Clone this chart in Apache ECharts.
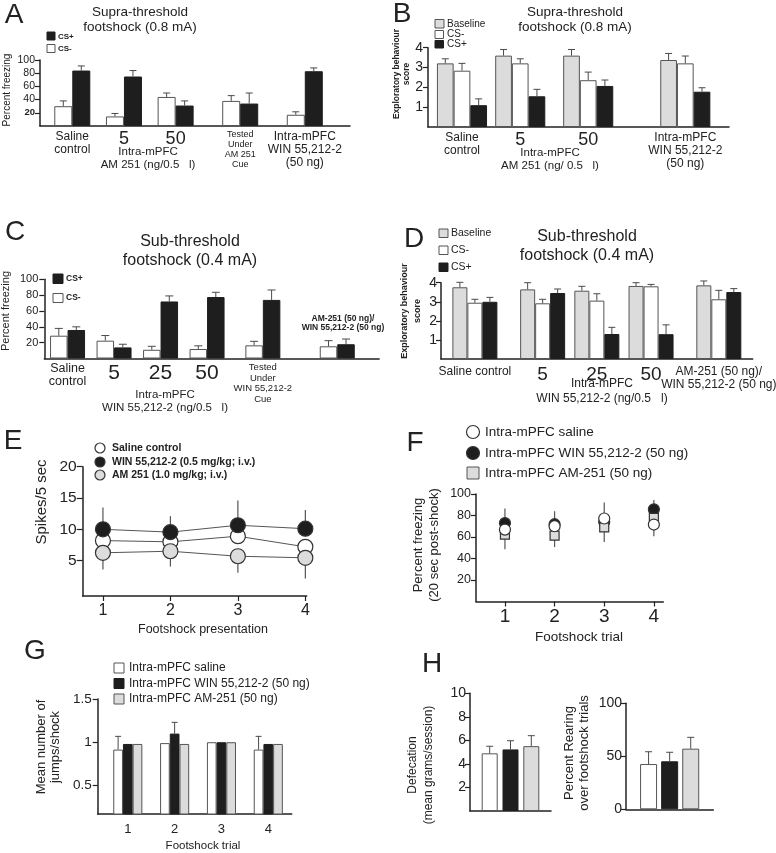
<!DOCTYPE html>
<html><head><meta charset="utf-8">
<script src="https://cdn.jsdelivr.net/npm/echarts@6/dist/echarts.min.js"></script>
<style>html,body{margin:0;padding:0;background:#fff}#c{width:776px;height:853px}</style>
</head><body><div id="c"></div>
<script>
// ===================== DATA =====================
// Panel A – supra-threshold, percent freezing
const aGroups = ['Saline control', '5', '50', 'Tested Under AM 251 Cue', 'Intra-mPFC WIN 55,212-2 (50 ng)'];
const aCSminus = [30, 14.5, 44, 38, 17];
const aCSminusErr = [8, 4.5, 6, 8, 4.5];
const aCSplus = [84, 75, 31, 34, 83];
const aCSplusErr = [7, 9, 7, 16, 5];
const aYTicks = [20, 40, 60, 80, 100];
// Panel B – supra-threshold, exploratory behaviour
const bGroups = ['Saline control', '5', '50', 'Intra-mPFC WIN 55,212-2 (50 ng)'];
const bBaseline = [3.21, 3.6, 3.6, 3.38];
const bBaselineErr = [0.23, 0.31, 0.31, 0.33];
const bCSminus = [2.84, 3.21, 2.36, 3.21];
const bCSminusErr = [0.37, 0.23, 0.41, 0.37];
const bCSplus = [1.1, 1.55, 2.07, 1.78];
const bCSplusErr = [0.32, 0.35, 0.3, 0.2];
const bYTicks = [1, 2, 3, 4];
// Panel C – sub-threshold, percent freezing
const cGroups = ['Saline control', '5', '25', '50', 'Tested Under WIN 55,212-2 Cue', 'AM-251 (50 ng)/WIN 55,212-2 (50 ng)'];
const cCSminus = [28.8, 22.5, 11, 12, 16.6, 15.4];
const cCSminusErr = [9.2, 6.5, 4.4, 4, 5.1, 7.1];
const cCSplus = [36, 14, 72, 77.6, 74, 18];
const cCSplusErr = [4, 4, 7, 6, 12.5, 6.6];
const cYTicks = [20, 40, 60, 80, 100];
// Panel D – sub-threshold, exploratory behaviour
const dGroups = ['Saline control', '5', '25', '50', 'AM-251 (50 ng)/ WIN 55,212-2 (50 ng)'];
const dBaseline = [3.76, 3.65, 3.58, 3.83, 3.86];
const dBaselineErr = [0.26, 0.35, 0.23, 0.17, 0.23];
const dCSminus = [2.95, 2.92, 3.06, 3.81, 3.13];
const dCSminusErr = [0.18, 0.21, 0.36, 0.1, 0.47];
const dCSplus = [3.0, 3.46, 1.31, 1.3, 3.51];
const dCSplusErr = [0.23, 0.21, 0.35, 0.49, 0.18];
const dYTicks = [1, 2, 3, 4];
// Panel E – spikes / 5 sec
const eTrials = [1, 2, 3, 4];
const eSaline = [8.2, 8.0, 8.9, 7.2];
const eWin = [10.0, 9.55, 10.65, 10.1];
const eWinErr = [3.5, 2.55, 3.95, 3.0];
const eAm = [6.25, 6.5, 5.7, 5.45];
const eAmErr = [2.65, 2.45, 2.64, 3.3];
const eYTicks = [5, 10, 15, 20];
// Panel F – percent freezing post-shock
const fTrials = [1, 2, 3, 4];
const fSaline = [66.9, 70, 77.2, 71.6];
const fWin = [73, 71.9, 74, 85.7];
const fWinErr = [13.6, 12.1, 18.2, 8.7];
const fAm = [62.2, 61.3, 69, 77.8];
const fAmErr = [13.7, 10.7, 13.7, 17.2];
const fYTicks = [20, 40, 60, 80, 100];
// Panel G – jumps / shock
const gTrials = ['1', '2', '3', '4'];
const gSaline = [0.915, 0.99, 1.0, 0.915];
const gSalineErr = [0.153, 0, 0, 0.153];
const gWin = [0.98, 1.1, 1.0, 0.98];
const gWinErr = [0, 0.13, 0, 0];
const gAm = [0.98, 0.98, 1.0, 0.98];
const gAmErr = [0, 0, 0, 0];
const gYTicks = [0.5, 1, 1.5];
// Panel H – defecation and rearing (saline, WIN, AM-251)
const hDefecation = [4.9, 5.23, 5.51];
const hDefecationErr = [0.6, 0.74, 0.89];
const hRearing = [42.7, 45.3, 57.2];
const hRearingErr = [11.6, 8.5, 10.7];
const hDefTicks = [2, 4, 6, 8, 10];
const hRearTicks = [0, 50, 100];

// ===================== STYLE / BUILD =====================
const FONT = '"Liberation Sans", Arial, Helvetica, sans-serif';
const INK = '#222';
const EDGE = '#4a4a4a';
const BLACK = '#1e1e1e';
const GREY = '#dcdcdc';
const WHITE = '#ffffff';
const stWhite = { color: WHITE, borderColor: '#555', borderWidth: 1 };
const stBlack = { color: BLACK, borderColor: BLACK, borderWidth: 1 };
const stGrey = { color: GREY, borderColor: '#555', borderWidth: 1 };

const grids = [], xAxes = [], yAxes = [], series = [], graphics = [];

function addGrid(left, top, width, height) {
  grids.push({ left, top, width, height, containLabel: false, outerBoundsMode: 'none' });
  return grids.length - 1;
}
function slotAxis(gi, n, slots, labels, rich, margin) {
  const cats = Array.from({ length: n }, (_, i) => 'c' + i);
  const at = {};
  slots.forEach((s, i) => { at[s] = labels[i]; });
  xAxes.push({
    type: 'category', gridIndex: gi, data: cats, boundaryGap: true,
    axisLine: { onZero: false, lineStyle: { color: INK, width: 1.5 } },
    axisTick: { show: false },
    axisLabel: { interval: 0, margin, color: INK, fontFamily: FONT,
      formatter: (v) => at[+String(v).slice(1)] || '', rich }
  });
  return { xi: xAxes.length - 1, cats };
}
function valueY(gi, min, max, ticks, size, margin, fmt, rich) {
  yAxes.push({ type: 'value', gridIndex: gi, min, max, splitLine: { show: false },
    axisLine: { show: true, onZero: false, lineStyle: { color: INK, width: 1.5 } },
    axisTick: { show: true, length: 5, customValues: ticks, lineStyle: { color: INK, width: 1.2 } },
    axisLabel: { customValues: ticks, fontSize: size, margin, color: INK, fontFamily: FONT, formatter: fmt, rich } });
  return yAxes.length - 1;
}
function valueX(gi, min, max, ticks, size, margin) {
  xAxes.push({ type: 'value', gridIndex: gi, min, max, splitLine: { show: false },
    axisLine: { show: true, onZero: false, lineStyle: { color: INK, width: 1.5 } },
    axisTick: { show: true, length: 5, customValues: ticks, lineStyle: { color: INK, width: 1.2 } },
    axisLabel: { customValues: ticks, fontSize: size, margin, color: INK, fontFamily: FONT } });
  return xAxes.length - 1;
}
function groupBars(ax, yi, slots, list, bw, cap) {
  const n = list.length;
  list.forEach((s, k) => {
    const data = ax.cats.map(() => '-');
    slots.forEach((sl, i) => { data[sl] = s.vals[i]; });
    series.push({ type: 'bar', xAxisIndex: ax.xi, yAxisIndex: yi, data, barWidth: bw, barGap: '0%',
      itemStyle: s.style, silent: true, z: 2 });
    const offset = (k - (n - 1) / 2) * bw;
    const edata = [];
    slots.forEach((sl, i) => { if (s.errs[i] > 0) edata.push([ax.cats[sl], s.vals[i], s.vals[i] + s.errs[i]]); });
    series.push({ type: 'custom', xAxisIndex: ax.xi, yAxisIndex: yi, data: edata, silent: true, z: 3,
      encode: { x: 0, y: [1, 2] },
      renderItem: (p, api) => {
        const a = api.coord([api.value(0), api.value(1)]);
        const b = api.coord([api.value(0), api.value(2)]);
        const x = a[0] + offset;
        return { type: 'group', children: [
          { type: 'line', shape: { x1: x, y1: a[1], x2: x, y2: b[1] }, style: { stroke: EDGE, lineWidth: 1 } },
          { type: 'line', shape: { x1: x - cap / 2, y1: b[1], x2: x + cap / 2, y2: b[1] }, style: { stroke: EDGE, lineWidth: 1 } }
        ] };
      } });
  });
}
function vErr(xi, yi, xs, lo, hi) {
  const data = xs.map((x, i) => [x, lo[i], hi[i]]);
  series.push({ type: 'custom', xAxisIndex: xi, yAxisIndex: yi, data, silent: true, z: 1,
    encode: { x: 0, y: [1, 2] },
    renderItem: (p, api) => {
      const a = api.coord([api.value(0), api.value(1)]);
      const b = api.coord([api.value(0), api.value(2)]);
      return { type: 'line', shape: { x1: a[0], y1: a[1], x2: b[0], y2: b[1] }, style: { stroke: '#555', lineWidth: 1.2 } };
    } });
}
function txt(x, y, text, size, o) {
  o = o || {};
  graphics.push({ type: 'text', x, y, rotation: o.rot || 0, silent: true, z: 10,
    style: { text, fill: INK, fontSize: size, fontFamily: FONT, fontWeight: o.bold ? 'bold' : 'normal',
      align: o.align || 'center', verticalAlign: o.va || 'middle', lineHeight: o.lh } });
}
function rect(x, y, w, h, st) {
  graphics.push({ type: 'rect', silent: true, z: 10, shape: { x, y, width: w, height: h },
    style: { fill: st.color, stroke: st.borderColor, lineWidth: 1 } });
}
function circ(cx, cy, r, fill) {
  graphics.push({ type: 'circle', silent: true, z: 10, shape: { cx, cy, r },
    style: { fill, stroke: '#333', lineWidth: 1.2 } });
}
const R90 = Math.PI / 2;

// ---------- Panel A ----------
{
  const gi = addGrid(40, 60, 310, 66);
  const labels = ['{n|Saline\ncontrol}', '{b|5}', '{b|50}', '{s|Tested\nUnder\nAM 251\nCue}', '{n|Intra-mPFC\nWIN 55,212-2\n(50 ng)}'];
  const ax = slotAxis(gi, 24, [2, 6, 10, 15, 20], labels, {
    n: { fontSize: 12, lineHeight: 13, fontFamily: FONT, color: INK },
    b: { fontSize: 18, lineHeight: 18, fontFamily: FONT, color: INK },
    s: { fontSize: 9, lineHeight: 10, fontFamily: FONT, color: INK } }, 4);
  const yi = valueY(gi, 0, 100, aYTicks, 10.5, 5, (v) => v === 20 ? '{bb|20}' : String(v),
    { bb: { fontSize: 9.5, fontWeight: 'bold', fontFamily: FONT, color: INK } });
  groupBars(ax, yi, [2, 6, 10, 15, 20], [
    { vals: aCSminus, errs: aCSminusErr, style: stWhite },
    { vals: aCSplus, errs: aCSplusErr, style: stBlack }], 18, 7);
  txt(14, 15, 'A', 28);
  txt(140, 20, 'Supra-threshold\nfootshock (0.8 mA)', 13.5, { lh: 14.5 });
  rect(47, 32, 8, 8, stBlack); txt(58, 36.5, 'CS+', 8, { bold: true, align: 'left' });
  rect(47, 44.5, 8, 8, stWhite); txt(58, 49, 'CS-', 8, { bold: true, align: 'left' });
  txt(7, 90, 'Percent freezing', 10, { rot: R90 });
  txt(148, 158.5, 'Intra-mPFC\nAM 251 (ng/0.5   l)', 11.5, { lh: 13 });
}
// ---------- Panel B ----------
{
  const gi = addGrid(428, 47.7, 301, 79.3);
  const labels = ['{n|Saline\ncontrol}', '{b|5}', '{b|50}', '{n|Intra-mPFC\nWIN 55,212-2\n(50 ng)}'];
  const ax = slotAxis(gi, 31, [3, 9, 16, 26], labels, {
    n: { fontSize: 12, lineHeight: 13, fontFamily: FONT, color: INK },
    b: { fontSize: 18, lineHeight: 18, fontFamily: FONT, color: INK } }, 4);
  const yi = valueY(gi, 0, 4, bYTicks, 14, 5);
  groupBars(ax, yi, [3, 9, 16, 26], [
    { vals: bBaseline, errs: bBaselineErr, style: stGrey },
    { vals: bCSminus, errs: bCSminusErr, style: stWhite },
    { vals: bCSplus, errs: bCSplusErr, style: stBlack }], 16.7, 7);
  txt(402, 14, 'B', 28);
  txt(575, 20, 'Supra-threshold\nfootshock (0.8 mA)', 13.5, { lh: 14.5 });
  rect(435, 19.5, 9, 8.5, stGrey); txt(447, 24, 'Baseline', 10, { align: 'left' });
  rect(435, 30.5, 8.5, 8, stWhite); txt(447, 34.5, 'CS-', 10, { align: 'left' });
  rect(435, 40.5, 8.5, 7.5, stBlack); txt(447, 44.5, 'CS+', 10, { align: 'left' });
  txt(402, 74, 'Exploratory behaviour\nscore', 8.5, { rot: R90, bold: true, lh: 10 });
  txt(550, 159, 'Intra-mPFC\nAM 251 (ng/ 0.5   l)', 11.5, { lh: 13 });
}
// ---------- Panel C ----------
{
  const gi = addGrid(44.3, 279.3, 334.8, 79.2);
  const labels = ['{n|Saline\ncontrol}', '{b|5}', '{b|25}', '{b|50}', '{s|Tested\nUnder\nWIN 55,212-2\nCue}', ''];
  const ax = slotAxis(gi, 36, [2, 7, 12, 17, 23, 31], labels, {
    n: { fontSize: 12.5, lineHeight: 13, fontFamily: FONT, color: INK },
    b: { fontSize: 21, lineHeight: 21, fontFamily: FONT, color: INK },
    s: { fontSize: 9.5, lineHeight: 10.5, fontFamily: FONT, color: INK } }, 4);
  const yi = valueY(gi, 0, 100, cYTicks, 11, 6);
  groupBars(ax, yi, [2, 7, 12, 17, 23, 31], [
    { vals: cCSminus, errs: cCSminusErr, style: stWhite },
    { vals: cCSplus, errs: cCSplusErr, style: stBlack }], 17.5, 8);
  txt(15, 232, 'C', 28);
  txt(190, 251, 'Sub-threshold\nfootshock (0.4 mA)', 16, { lh: 18.5 });
  rect(53, 274, 10, 9.5, stBlack); txt(66, 278.5, 'CS+', 8.5, { bold: true, align: 'left' });
  rect(53, 293.5, 10, 9, stWhite); txt(66, 298, 'CS-', 8.5, { bold: true, align: 'left' });
  txt(6, 311, 'Percent freezing', 11, { rot: R90 });
  txt(343, 323, 'AM-251 (50 ng)/\nWIN 55,212-2 (50 ng)', 8.5, { bold: true, lh: 9.5 });
  txt(165, 401.5, 'Intra-mPFC\nWIN 55,212-2 (ng/0.5   l)', 11.5, { lh: 13 });
}
// ---------- Panel D ----------
{
  const gi = addGrid(441, 282.7, 311.7, 76.3);
  const labels = ['{n|Saline control}', '{b|5}', '{b|25}', '{b|50}', '{n|AM-251 (50 ng)/\nWIN 55,212-2 (50 ng)}'];
  const ax = slotAxis(gi, 23, [2, 7, 11, 15, 20], labels, {
    n: { fontSize: 12, lineHeight: 13, fontFamily: FONT, color: INK },
    b: { fontSize: 19, lineHeight: 19, fontFamily: FONT, color: INK } }, 6);
  const yi = valueY(gi, 0, 4, dYTicks, 14, 4);
  groupBars(ax, yi, [2, 7, 11, 15, 20], [
    { vals: dBaseline, errs: dBaselineErr, style: stGrey },
    { vals: dCSminus, errs: dCSminusErr, style: stWhite },
    { vals: dCSplus, errs: dCSplusErr, style: stBlack }], 15, 7);
  txt(414, 239, 'D', 28);
  txt(587, 246, 'Sub-threshold\nfootshock (0.4 mA)', 16, { lh: 18.5 });
  rect(439, 229, 9, 8.5, stGrey); txt(451, 233.5, 'Baseline', 10.5, { align: 'left' });
  rect(439, 246, 9, 8.5, stWhite); txt(451, 250.5, 'CS-', 10.5, { align: 'left' });
  rect(439, 263, 9, 8.5, stBlack); txt(451, 267.5, 'CS+', 10.5, { align: 'left' });
  txt(411, 311, 'Exploratory behaviour\nscore', 9, { rot: R90, bold: true, lh: 13 });
  txt(602, 391.5, 'Intra-mPFC\nWIN 55,212-2 (ng/0.5   l)', 12, { lh: 15 });
}
// ---------- Panel E ----------
{
  const gi = addGrid(82.7, 466.7, 224, 129.3);
  const xi = valueX(gi, 0.7, 4.02, eTrials, 16, 7);
  const yi = valueY(gi, -0.65, 20, eYTicks, 15.5, 6);
  yAxes[yi].axisTick.length = 6;
  vErr(xi, yi, eTrials, eWin, eWin.map((v, i) => v + eWinErr[i]));
  vErr(xi, yi, eTrials, eAm, eAm.map((v, i) => v - eAmErr[i]));
  const mk = (vals, fill) => ({ type: 'line', xAxisIndex: xi, yAxisIndex: yi, silent: true, z: 2,
    data: eTrials.map((t, i) => [t, vals[i]]), symbol: 'circle', symbolSize: 15, showAllSymbol: true,
    lineStyle: { color: '#555', width: 1 }, itemStyle: { color: fill, borderColor: '#333', borderWidth: 1.2 } });
  series.push(mk(eSaline, WHITE), mk(eWin, BLACK), mk(eAm, GREY));
  txt(13, 441, 'E', 28);
  circ(100, 448, 5, WHITE); txt(112, 448.5, 'Saline control', 10.5, { bold: true, align: 'left' });
  circ(100, 462, 5, BLACK); txt(112, 462.5, 'WIN 55,212-2 (0.5 mg/kg; i.v.)', 10.5, { bold: true, align: 'left' });
  circ(100, 475, 5, GREY); txt(112, 475.5, 'AM 251 (1.0 mg/kg; i.v.)', 10.5, { bold: true, align: 'left' });
  txt(42, 502, 'Spikes/5 sec', 15, { rot: R90 });
  txt(203, 630, 'Footshock presentation', 12.5);
}
// ---------- Panel F ----------
{
  const gi = addGrid(476, 494, 187.3, 107.5);
  const xi = valueX(gi, 0.417, 4.19, fTrials, 19, 6);
  const yi = valueY(gi, 0, 100, fYTicks, 12.5, 5);
  vErr(xi, yi, fTrials, fWin, fWin.map((v, i) => v + fWinErr[i]));
  vErr(xi, yi, fTrials, fAm, fAm.map((v, i) => v - fAmErr[i]));
  const mk = (vals, fill, sym, size) => ({ type: 'scatter', xAxisIndex: xi, yAxisIndex: yi, silent: true, z: 2,
    data: fTrials.map((t, i) => [t, vals[i]]), symbol: sym, symbolSize: size,
    itemStyle: { color: fill, borderColor: '#333', borderWidth: 1.2, opacity: 1 } });
  series.push(mk(fWin, BLACK, 'circle', 11), mk(fAm, GREY, 'rect', 9), mk(fSaline, WHITE, 'circle', 11));
  txt(415, 443, 'F', 28);
  circ(473, 432, 6.5, WHITE); txt(485, 432.5, 'Intra-mPFC saline', 13.5, { align: 'left' });
  circ(473, 453, 6.5, BLACK); txt(485, 453.5, 'Intra-mPFC WIN 55,212-2 (50 ng)', 13.5, { align: 'left' });
  rect(467, 467, 12, 12, stGrey); txt(485, 473.5, 'Intra-mPFC AM-251 (50 ng)', 13.5, { align: 'left' });
  txt(426, 545, 'Percent freezing\n(20 sec post-shock)', 13, { rot: R90, lh: 16 });
  txt(579, 637, 'Footshock trial', 13.5);
}
// ---------- Panel G ----------
{
  const gi = addGrid(97.7, 699, 194, 115);
  const ax = slotAxis(gi, 29, [4, 11, 18, 25], gTrials.map(t => '{n|' + t + '}'), {
    n: { fontSize: 13, lineHeight: 14, fontFamily: FONT, color: INK } }, 8);
  const yi = valueY(gi, 0.17, 1.5, gYTicks, 13.5, 6);
  groupBars(ax, yi, [4, 11, 18, 25], [
    { vals: gSaline, errs: gSalineErr, style: stWhite },
    { vals: gWin, errs: gWinErr, style: stBlack },
    { vals: gAm, errs: gAmErr, style: stGrey }], 9.7, 6);
  txt(35, 651, 'G', 28);
  rect(114, 663, 10, 10, stWhite); txt(129, 668, 'Intra-mPFC saline', 12, { align: 'left' });
  rect(114, 678.5, 10, 10, stBlack); txt(129, 683.5, 'Intra-mPFC WIN 55,212-2 (50 ng)', 12, { align: 'left' });
  rect(114, 694, 10, 10, stGrey); txt(129, 699, 'Intra-mPFC AM-251 (50 ng)', 12, { align: 'left' });
  txt(48, 747, 'Mean number of\njumps/shock', 13, { rot: R90, lh: 14 });
  txt(203, 846, 'Footshock trial', 11.5);
}
// ---------- Panel H ----------
function hPanel(left, top, w, h, max, ticks, vals, errs, bw, gap) {
  const gi = addGrid(left, top, w, h);
  const ax = slotAxis(gi, 1, [0], [''], {}, 4);
  const yi = valueY(gi, 0, max, ticks, 14, 4);
  const list = [stWhite, stBlack, stGrey];
  list.forEach((st, k) => {
    const data = [vals[k]];
    series.push({ type: 'bar', xAxisIndex: ax.xi, yAxisIndex: yi, data, barWidth: bw, barGap: gap,
      itemStyle: st, silent: true, z: 2 });
  });
  const g = bw * parseFloat(gap) / 100;
  list.forEach((st, k) => {
    const offset = (k - 1) * (bw + g);
    series.push({ type: 'custom', xAxisIndex: ax.xi, yAxisIndex: yi, silent: true, z: 3,
      data: [[ax.cats[0], vals[k], vals[k] + errs[k]]], encode: { x: 0, y: [1, 2] },
      renderItem: (p, api) => {
        const a = api.coord([api.value(0), api.value(1)]);
        const b = api.coord([api.value(0), api.value(2)]);
        const x = a[0] + offset;
        return { type: 'group', children: [
          { type: 'line', shape: { x1: x, y1: a[1], x2: x, y2: b[1] }, style: { stroke: EDGE, lineWidth: 1 } },
          { type: 'line', shape: { x1: x - 3.5, y1: b[1], x2: x + 3.5, y2: b[1] }, style: { stroke: EDGE, lineWidth: 1 } }] };
      } });
  });
}
hPanel(470, 693.3, 81, 117.7, 10, hDefTicks, hDefecation, hDefecationErr, 16, '30%');
hPanel(626, 703.3, 87.3, 106, 100, hRearTicks, hRearing, hRearingErr, 17, '24%');
txt(432, 664, 'H', 28);
txt(421, 765, 'Defecation\n(mean grams/session)', 12, { rot: R90, lh: 16 });
txt(577, 753, 'Percent Rearing\nover footshock trials', 13, { rot: R90, lh: 15 });

const chart = echarts.init(document.getElementById('c'), null, { renderer: 'canvas', width: 776, height: 853 });
chart.setOption({
  animation: false,
  backgroundColor: '#ffffff',
  textStyle: { fontFamily: FONT },
  grid: grids, xAxis: xAxes, yAxis: yAxes, series, graphic: graphics
});
</script>
</body></html>
